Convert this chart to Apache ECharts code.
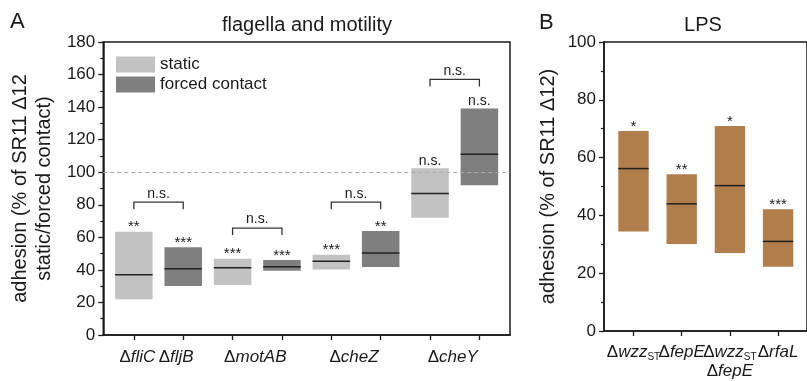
<!DOCTYPE html>
<html>
<head>
<meta charset="utf-8">
<script src="https://cdn.jsdelivr.net/npm/echarts@6/dist/echarts.min.js"></script>
<style>
  html, body { margin: 0; padding: 0; background: #fff; }
  #chart { width: 807px; height: 381px; }
</style>
</head>
<body>
<div id="chart"></div>
<script>
// A: flagella and motility (range low-high, line = median)
const motilityLabels = ['{d|Δ}{i|fliC} {d|Δ}{i|fljB}', '{d|Δ}{i|motAB}', '{d|Δ}{i|cheZ}', '{d|Δ}{i|cheY}']
const staticLow = [21.9, 30.7, 40.3, 72.1]
const staticHigh = [63.5, 46.9, 49.3, 102.4]
const staticMedian = [37.0, 41.3, 45.3, 87.0]
const forcedLow = [30.1, 39.5, 41.8, 92.0]
const forcedHigh = [53.9, 46.1, 63.9, 139.2]
const forcedMedian = [40.7, 42.0, 50.4, 111.0]
const staticSig = ['**', '***', '***', 'n.s.']
const forcedSig = ['***', '***', '**', 'n.s.']
// static vs forced comparison brackets
const pairY = [81.6, 65.7, 81.6, 157]
const pairSig = ['n.s.', 'n.s.', 'n.s.', 'n.s.']

// B: LPS
const lpsLabels = ['{d|Δ}{i|wzz}{s|ST}', '{d|Δ}{i|fepE}', '{d|Δ}{i|wzz}{s|ST}\n{d|Δ}{i|fepE}', '{d|Δ}{i|rfaL}']
const lpsLow = [34.4, 30.1, 27.0, 22.2]
const lpsHigh = [69.2, 54.2, 70.9, 42.1]
const lpsMedian = [56.2, 44.0, 50.3, 31.0]
const lpsSig = ['*', '**', '*', '***']

const FONT = 'Liberation Sans, Arial, sans-serif'
const INK = '#1a1a1a'
const LIGHT = '#c2c2c2'
const DARK = '#7f7f7f'
const BROWN = '#b07d4b'

const richX = {
  d: { fontSize: 17, fontFamily: FONT, color: INK },
  i: { fontSize: 17, fontFamily: FONT, fontStyle: 'italic', color: INK },
  s: { fontSize: 10, fontFamily: FONT, color: INK, verticalAlign: 'bottom', padding: [6, 0, 0, 0] }
}

// floating box with median line and significance mark
function boxItem (width, fill, sig) {
  return function (params, api) {
    const x = api.value(0)
    const lo = api.coord([x, api.value(1)])
    const hi = api.coord([x, api.value(2)])
    const md = api.coord([x, api.value(3)])
    const w = api.size([width, 0])[0]
    const txt = sig[params.dataIndex]
    const stars = txt.charAt(0) === '*'
    return {
      type: 'group',
      children: [
        { type: 'rect', shape: { x: lo[0] - w / 2, y: hi[1], width: w, height: lo[1] - hi[1] }, style: { fill: fill } },
        { type: 'line', shape: { x1: lo[0] - w / 2, y1: md[1], x2: lo[0] + w / 2, y2: md[1] }, style: { stroke: '#222', lineWidth: 1.5 } },
        { type: 'text', x: hi[0], y: hi[1] + (stars ? 3 : -0.5), style: { text: txt, font: (stars ? '15px ' : '14px ') + FONT, fill: INK, align: 'center', verticalAlign: 'bottom' } }
      ]
    }
  }
}

function bracketItem (params, api) {
  const a = api.coord([api.value(0), api.value(2)])
  const b = api.coord([api.value(1), api.value(2)])
  return {
    type: 'group',
    children: [
      { type: 'polyline', shape: { points: [[a[0], a[1] + 7], a, b, [b[0], b[1] + 7]] }, style: { stroke: '#333', lineWidth: 1.3, fill: null } },
      { type: 'text', x: (a[0] + b[0]) / 2, y: a[1] - 1.5, style: { text: pairSig[params.dataIndex], font: '14px ' + FONT, fill: INK, align: 'center', verticalAlign: 'bottom' } }
    ]
  }
}

const chart = echarts.init(document.getElementById('chart'))

const valAxisBase = {
  axisLine: { show: true, lineStyle: { color: INK, width: 1.5 } },
  axisTick: { show: true, length: 5, lineStyle: { color: INK, width: 1.3 } },
  minorTick: { show: true, splitNumber: 2, length: 3, lineStyle: { color: INK, width: 1.2 } },
  axisLabel: { fontSize: 17, fontFamily: FONT, color: INK, margin: 8 },
  splitLine: { show: false },
  nameLocation: 'middle',
  nameTextStyle: { fontSize: 20, fontFamily: FONT, color: INK, lineHeight: 24 }
}

// LPS labels are tight, so odd and even ones go on two stacked axes (no overlap hiding)
function lpsAxis (labelAt, main) {
  return {
    gridIndex: 1, type: 'value', min: 0.388, max: 4.6, position: 'bottom',
    axisLine: { show: main, lineStyle: { color: INK, width: 1.5 } },
    axisTick: { show: main, length: 5, customValues: [1, 2, 3, 4], lineStyle: { color: INK, width: 1.3 } },
    axisLabel: {
      customValues: labelAt, margin: 12, lineHeight: 19, hideOverlap: false,
      showMinLabel: true, showMaxLabel: true,
      formatter: v => lpsLabels[Math.round(v) - 1], rich: richX
    },
    splitLine: { show: false }
  }
}

chart.setOption({
  animation: false,
  grid: [
    { left: 98, top: 42, width: 412, height: 293, show: true, borderColor: INK, borderWidth: 1.5 },
    { left: 604, top: 42, right: -4, height: 293, show: true, borderColor: INK, borderWidth: 1.5 }
  ],
  legend: {
    left: 111, top: 51, orient: 'vertical', itemGap: 3, itemWidth: 39, itemHeight: 16,
    data: [{ name: 'static', icon: 'rect' }, { name: 'forced contact', icon: 'rect' }],
    textStyle: { fontSize: 17, fontFamily: FONT, color: INK }
  },
  graphic: [
    { type: 'text', left: 10, top: 11, style: { text: 'A', font: '22px ' + FONT, fill: INK } },
    { type: 'text', x: 307, y: 25, style: { text: 'flagella and motility', font: '20px ' + FONT, fill: INK, align: 'center', verticalAlign: 'middle' } },
    { type: 'text', left: 539, top: 12, style: { text: 'B', font: '22px ' + FONT, fill: INK } },
    { type: 'text', x: 703, y: 25, style: { text: 'LPS', font: '20px ' + FONT, fill: INK, align: 'center', verticalAlign: 'middle' } }
  ],
  xAxis: [
    {
      gridIndex: 0, type: 'value', min: 0.38, max: 8.62,
      axisLine: { show: true, lineStyle: { color: INK, width: 1.5 } },
      axisTick: { show: true, length: 5, customValues: [1, 2, 3, 4, 5, 6, 7, 8], lineStyle: { color: INK, width: 1.3 } },
      axisLabel: { customValues: [1.46, 3.46, 5.46, 7.46], margin: 14, hideOverlap: false, formatter: v => motilityLabels[Math.round((v - 1.46) / 2)], rich: richX },
      splitLine: { show: false }
    },
    lpsAxis([1, 3], true),
    lpsAxis([2, 4], false)
  ],
  yAxis: [
    Object.assign({}, valAxisBase, {
      gridIndex: 0, type: 'value', min: 0, max: 180, interval: 20,
      name: 'adhesion (% of SR11 Δ12\nstatic/forced contact)', nameGap: 45
    }),
    Object.assign({}, valAxisBase, {
      gridIndex: 1, type: 'value', min: 0, max: 100, interval: 20,
      name: 'adhesion (% of SR11 Δ12)', nameGap: 44
    })
  ],
  series: [
    {
      name: 'static', type: 'custom', xAxisIndex: 0, yAxisIndex: 0,
      itemStyle: { color: LIGHT },
      renderItem: boxItem(0.76, LIGHT, staticSig),
      data: staticLow.map((v, i) => [2 * i + 1, v, staticHigh[i], staticMedian[i]]),
      markLine: {
        silent: true, symbol: 'none', label: { show: false },
        lineStyle: { type: [4, 3], color: '#aaa', width: 1 },
        data: [{ yAxis: 100 }]
      },
      z: 3
    },
    {
      name: 'forced contact', type: 'custom', xAxisIndex: 0, yAxisIndex: 0,
      itemStyle: { color: DARK },
      renderItem: boxItem(0.76, DARK, forcedSig),
      data: forcedLow.map((v, i) => [2 * i + 2, v, forcedHigh[i], forcedMedian[i]]),
      z: 3
    },
    {
      name: 'pairs', type: 'custom', xAxisIndex: 0, yAxisIndex: 0,
      renderItem: bracketItem,
      data: pairY.map((v, i) => [2 * i + 1, 2 * i + 2, v])
    },
    {
      name: 'LPS', type: 'custom', xAxisIndex: 1, yAxisIndex: 1,
      itemStyle: { color: BROWN },
      renderItem: boxItem(0.63, BROWN, lpsSig),
      data: lpsLow.map((v, i) => [i + 1, v, lpsHigh[i], lpsMedian[i]])
    }
  ]
})
</script>
</body>
</html>
